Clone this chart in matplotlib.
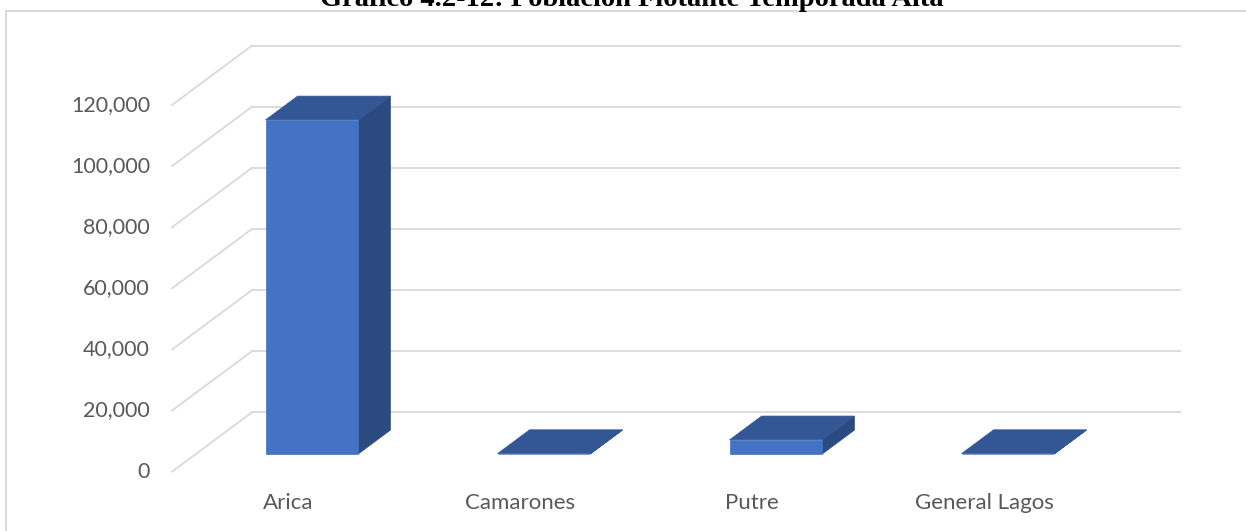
import numpy as np
import matplotlib
matplotlib.use("Agg")
import matplotlib.pyplot as plt
from matplotlib.patches import Polygon
from matplotlib.lines import Line2D
from matplotlib.transforms import IdentityTransform, offset_copy

# ---- data ----
title = "Gráfico 4.2-12: Población Flotante Temporada Alta"
categories = ["Arica", "Camarones", "Putre", "General Lagos"]
values = [109300, 100, 4600, 100]
yticks = [0, 20000, 40000, 60000, 80000, 100000, 120000]
ytick_labels = ["0", "20,000", "40,000", "60,000", "80,000", "100,000", "120,000"]

# ---- style ----
W, H = 1246, 531
FRONT = "#4472C4"
TOP = "#325794"
SIDE = "#2B4A7F"
GRID = "#D9D9D9"
TXT = "#595959"
DEPTH = np.array([80.0, 59.4])   # pixel offset of full depth
BAR_W = 0.4
D0, D1 = 0.3, 0.7

fig = plt.figure(figsize=(W / 100, H / 100), dpi=100)
ax = fig.add_axes([172 / W, (H - 471.7) / H, 928 / W, 366.7 / H])
ax.set_xlim(0, len(categories))
ax.set_ylim(0, yticks[-1])
ax.axis("off")

ident = IdentityTransform()


def P(x, y, d):
    return ax.transData.transform((x, y)) + d * DEPTH


# gridlines: back wall and side wall
n = len(categories)
for v in yticks:
    a, b = P(0, v, 1), P(n, v, 1)
    fig.add_artist(Line2D([a[0], b[0]], [a[1], b[1]], transform=ident,
                          color=GRID, lw=1.3, zorder=1))
    c = P(0, v, 0)
    fig.add_artist(Line2D([c[0], a[0]], [c[1], a[1]], transform=ident,
                          color=GRID, lw=1.3, zorder=1))

# bars
for i, v in enumerate(values):
    x0 = i + 0.5 - BAR_W / 2
    x1 = i + 0.5 + BAR_W / 2
    side = [P(x1, 0, D0), P(x1, 0, D1), P(x1, v, D1), P(x1, v, D0)]
    top = [P(x0, v, D0), P(x1, v, D0), P(x1, v, D1), P(x0, v, D1)]
    front = [P(x0, 0, D0), P(x1, 0, D0), P(x1, v, D0), P(x0, v, D0)]
    for pts, col, z in ((side, SIDE, 3), (top, TOP, 4), (front, FRONT, 5)):
        fig.add_artist(Polygon(pts, closed=True, transform=ident,
                               facecolor=col, edgecolor=col, lw=0.5, zorder=z))

# y tick labels (front plane)
tr_y = offset_copy(ax.transData, fig=fig, x=-22, y=0, units="dots")
for v, lab in zip(yticks, ytick_labels):
    ax.text(0, v, lab, transform=tr_y, ha="right", va="center",
            fontsize=15.5, color=TXT, fontfamily="Lato", clip_on=False)

# category labels
tr_x = offset_copy(ax.transData, fig=fig, x=0, y=-31, units="dots")
for i, c in enumerate(categories):
    ax.text(i + 0.5, 0, c, transform=tr_x, ha="center", va="center",
            fontsize=16, color=TXT, fontfamily="Lato", clip_on=False)

# chart border (top and left edges visible)
fig.add_artist(Line2D([5.5 / W, 1.0], [1 - 10.5 / H, 1 - 10.5 / H],
                      transform=fig.transFigure, color=GRID, lw=1.5))
fig.add_artist(Line2D([5.5 / W, 5.5 / W], [0, 1 - 10.5 / H],
                      transform=fig.transFigure, color=GRID, lw=1.5))

# title (partly cut at the top, as in the original)
fig.text(0.507, 1 - 6 / H, title, ha="center", va="baseline",
         fontsize=20.5, fontweight="bold", fontfamily="Liberation Serif",
         color="black")

fig.savefig("out.png", dpi=100)
